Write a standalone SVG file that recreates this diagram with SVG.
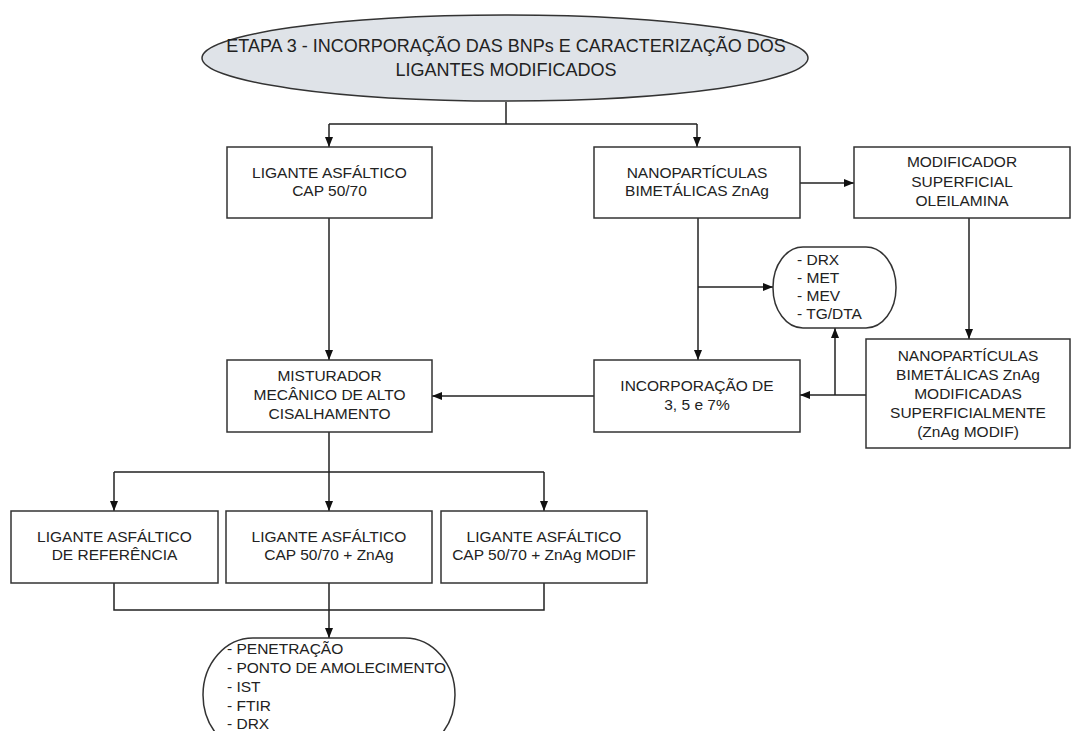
<svg xmlns="http://www.w3.org/2000/svg" width="1076" height="731" viewBox="0 0 1076 731">
<style>
.box{fill:#fff;stroke:#333;stroke-width:1.5}
.t{font-family:"Liberation Sans",Arial,sans-serif;font-size:15.5px;fill:#222;text-anchor:middle}
.tl{font-family:"Liberation Sans",Arial,sans-serif;font-size:15.5px;fill:#222}
.title{font-family:"Liberation Sans",Arial,sans-serif;font-size:18px;fill:#222;text-anchor:middle}
.c{fill:none;stroke:#222;stroke-width:1.5}
</style>
<defs>
<marker id="ah" markerUnits="userSpaceOnUse" markerWidth="10" markerHeight="8" refX="10" refY="4" orient="auto">
<path d="M0,0 L10,4 L0,8 z" fill="#111"/>
</marker>
</defs>
<rect width="1076" height="731" fill="#fff"/>
<g id="connectors">
<path class="c" d="M506,102 V124 M329,124 H697"/>
<path class="c" d="M329,124 V147" marker-end="url(#ah)"/>
<path class="c" d="M697,124 V147" marker-end="url(#ah)"/>
<path class="c" d="M800,183 H854" marker-end="url(#ah)"/>
<path class="c" d="M969,218 V339" marker-end="url(#ah)"/>
<path class="c" d="M698,218 V360" marker-end="url(#ah)"/>
<path class="c" d="M698,287 H773" marker-end="url(#ah)"/>
<path class="c" d="M866,395 H800" marker-end="url(#ah)"/>
<path class="c" d="M835,395 V328" marker-end="url(#ah)"/>
<path class="c" d="M594,396 H432" marker-end="url(#ah)"/>
<path class="c" d="M329,218 V360" marker-end="url(#ah)"/>
<path class="c" d="M329,432 V472 M114,472 H544"/>
<path class="c" d="M114,472 V511" marker-end="url(#ah)"/>
<path class="c" d="M329,472 V511" marker-end="url(#ah)"/>
<path class="c" d="M544,472 V511" marker-end="url(#ah)"/>
<path class="c" d="M114,583 V610 H544 V583 M329,583 V610"/>
<path class="c" d="M329,610 V638" marker-end="url(#ah)"/>
</g>
<g id="n-title">
<ellipse cx="505" cy="58" rx="303" ry="43" fill="#dfe3e8" stroke="#333" stroke-width="1.5"/>
<text class="title" x="506" y="51.5">ETAPA 3 - INCORPORAÇÃO DAS BNPs E CARACTERIZAÇÃO DOS</text>
<text class="title" x="506" y="76">LIGANTES MODIFICADOS</text>
</g>
<g id="n-ligante">
<rect class="box" x="227" y="147" width="205" height="71"/>
<text class="t" x="329.5" y="177.5">LIGANTE ASFÁLTICO</text>
<text class="t" x="329.5" y="196">CAP 50/70</text>
</g>
<g id="n-nano">
<rect class="box" x="594" y="147" width="206" height="71"/>
<text class="t" x="697" y="177.5">NANOPARTÍCULAS</text>
<text class="t" x="697" y="196">BIMETÁLICAS ZnAg</text>
</g>
<g id="n-modificador">
<rect class="box" x="854" y="147" width="216" height="71"/>
<text class="t" x="962" y="167">MODIFICADOR</text>
<text class="t" x="962" y="186.5">SUPERFICIAL</text>
<text class="t" x="962" y="205.5">OLEILAMINA</text>
</g>
<g id="n-caract">
<rect class="box" x="773" y="247" width="123" height="81" rx="30" ry="40"/>
<text class="tl" x="797" y="264.5">- DRX</text>
<text class="tl" x="797" y="282.5">- MET</text>
<text class="tl" x="797" y="300.5">- MEV</text>
<text class="tl" x="797" y="318.5">- TG/DTA</text>
</g>
<g id="n-incorp">
<rect class="box" x="594" y="360" width="206" height="72"/>
<text class="t" x="697" y="390.5">INCORPORAÇÃO DE</text>
<text class="t" x="697" y="409.5">3, 5 e 7%</text>
</g>
<g id="n-modif">
<rect class="box" x="866" y="339" width="204" height="109"/>
<text class="t" x="968" y="360.5">NANOPARTÍCULAS</text>
<text class="t" x="968" y="380">BIMETÁLICAS ZnAg</text>
<text class="t" x="968" y="399">MODIFICADAS</text>
<text class="t" x="968" y="418">SUPERFICIALMENTE</text>
<text class="t" x="968" y="437">(ZnAg MODIF)</text>
</g>
<g id="n-misturador">
<rect class="box" x="227" y="360" width="205" height="72"/>
<text class="t" x="329.5" y="380.5">MISTURADOR</text>
<text class="t" x="329.5" y="399.5">MECÂNICO DE ALTO</text>
<text class="t" x="329.5" y="419">CISALHAMENTO</text>
</g>
<g id="n-ref">
<rect class="box" x="11" y="511" width="207" height="72"/>
<text class="t" x="114.5" y="541.5">LIGANTE ASFÁLTICO</text>
<text class="t" x="114.5" y="560">DE REFERÊNCIA</text>
</g>
<g id="n-znag">
<rect class="box" x="226" y="511" width="206" height="72"/>
<text class="t" x="329" y="541.5">LIGANTE ASFÁLTICO</text>
<text class="t" x="329" y="560">CAP 50/70 + ZnAg</text>
</g>
<g id="n-znagmodif">
<rect class="box" x="441" y="511" width="206" height="72"/>
<text class="t" x="544" y="541.5">LIGANTE ASFÁLTICO</text>
<text class="t" x="544" y="560">CAP 50/70 + ZnAg MODIF</text>
</g>
<g id="n-ensaios">
<rect class="box" x="203" y="638" width="252" height="114" rx="50" ry="57"/>
<text class="tl" x="227" y="654">- PENETRAÇÃO</text>
<text class="tl" x="227" y="673">- PONTO DE AMOLECIMENTO</text>
<text class="tl" x="227" y="692">- IST</text>
<text class="tl" x="227" y="710.5">- FTIR</text>
<text class="tl" x="227" y="729">- DRX</text>
</g>
</svg>
